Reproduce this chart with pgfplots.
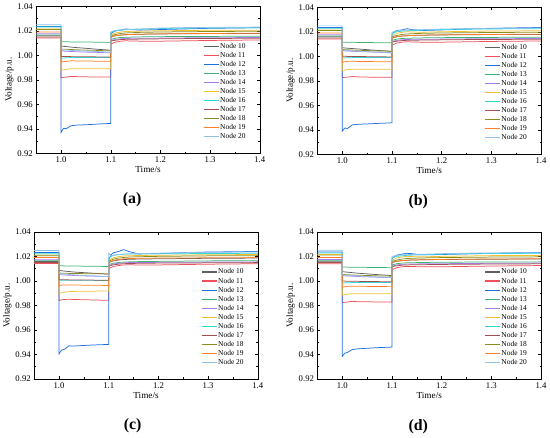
\documentclass[border=0pt]{standalone}
\usepackage{pgfplots}
\pgfplotsset{compat=1.18}
\usepackage{pgfplotstable}
\usepackage{fontspec}
\setmainfont{Liberation Serif}

\definecolor{c10}{HTML}{606060}
\definecolor{c11}{HTML}{F0505A}
\definecolor{c12}{HTML}{1F6FE0}
\definecolor{c13}{HTML}{3CB371}
\definecolor{c14}{HTML}{A87CF0}
\definecolor{c15}{HTML}{F0C030}
\definecolor{c16}{HTML}{30D8D8}
\definecolor{c17}{HTML}{A05050}
\definecolor{c18}{HTML}{8C8C1E}
\definecolor{c19}{HTML}{FF7F27}
\definecolor{c20}{HTML}{8EC0EA}

\pgfplotstableread{
t      n10    n11    n12    n13    n14    n15    n16    n17    n18    n19    n20
0.95   1.0160 1.0140 1.0235 1.0165 1.0175 1.0215 1.0230 1.0150 1.0210 1.0190 1.0250
0.9999 1.0160 1.0140 1.0235 1.0165 1.0175 1.0215 1.0230 1.0150 1.0210 1.0190 1.0250
1.0    1.0075 0.9815 0.9370 1.0110 1.0035 0.9880 0.9975 0.9990 1.0050 0.9945 1.0045
1.005  1.0073 0.9820 0.9405 1.0110 1.0034 0.9882 0.9978 0.9990 1.0050 0.9948 1.0044
1.01   1.0071 0.9822 0.9400 1.0110 1.0033 0.9885 0.9980 0.9990 1.0049 0.9950 1.0043
1.02   1.0067 0.9828 0.9425 1.0109 1.0031 0.9890 0.9981 0.9989 1.0047 0.9955 1.0040
1.03   1.0063 0.9826 0.9430 1.0109 1.0029 0.9890 0.9981 0.9989 1.0045 0.9954 1.0038
1.05   1.0057 0.9824 0.9433 1.0108 1.0026 0.9890 0.9981 0.9988 1.0042 0.9953 1.0034
1.07   1.0050 0.9823 0.9438 1.0107 1.0024 0.9890 0.9981 0.9987 1.0040 0.9952 1.0031
1.09   1.0044 0.9822 0.9442 1.0106 1.0021 0.9890 0.9981 0.9986 1.0037 0.9951 1.0027
1.0999 1.0041 0.9822 0.9444 1.0105 1.0020 0.9890 0.9981 0.9986 1.0036 0.9951 1.0025
1.1    1.0150 1.0090 1.0170 1.0130 1.0120 1.0165 1.0185 1.0115 1.0155 1.0145 1.0190
1.105  1.0155 1.0100 1.0190 1.0135 1.0125 1.0175 1.0195 1.0120 1.0165 1.0155 1.0198
1.11   1.0160 1.0108 1.0200 1.0140 1.0130 1.0182 1.0200 1.0123 1.0170 1.0160 1.0203
1.12   1.0165 1.0115 1.0205 1.0145 1.0135 1.0190 1.0205 1.0128 1.0178 1.0165 1.0207
1.13   1.0168 1.0118 1.0215 1.0147 1.0137 1.0194 1.0208 1.0130 1.0182 1.0168 1.0210
1.14   1.0170 1.0117 1.0210 1.0148 1.0138 1.0195 1.0210 1.0131 1.0184 1.0170 1.0212
1.16   1.0172 1.0115 1.0205 1.0150 1.0139 1.0197 1.0213 1.0132 1.0187 1.0172 1.0215
1.2    1.0174 1.0115 1.0210 1.0152 1.0140 1.0200 1.0218 1.0134 1.0190 1.0175 1.0222
1.25   1.0176 1.0118 1.0215 1.0153 1.0142 1.0202 1.0221 1.0136 1.0192 1.0177 1.0226
1.3    1.0177 1.0121 1.0220 1.0154 1.0143 1.0204 1.0223 1.0137 1.0194 1.0178 1.0228
1.4    1.0178 1.0125 1.0225 1.0155 1.0145 1.0205 1.0225 1.0139 1.0196 1.0180 1.0230
}\dataA

\pgfplotstableread{
t      n10    n11    n12    n13    n14    n15    n16    n17    n18    n19    n20
0.95   1.0160 1.0140 1.0235 1.0165 1.0175 1.0215 1.0228 1.0150 1.0210 1.0190 1.0248
0.9999 1.0160 1.0140 1.0235 1.0165 1.0175 1.0215 1.0228 1.0150 1.0210 1.0190 1.0248
1.0    1.0070 0.9825 0.9390 1.0115 1.0045 0.9885 0.9985 1.0000 1.0055 0.9950 1.0050
1.005  1.0068 0.9828 0.9415 1.0115 1.0044 0.9887 0.9987 1.0000 1.0054 0.9955 1.0049
1.01   1.0066 0.9830 0.9410 1.0114 1.0043 0.9890 0.9988 0.9999 1.0053 0.9958 1.0048
1.02   1.0063 0.9835 0.9440 1.0114 1.0041 0.9895 0.9989 0.9998 1.0051 0.9960 1.0045
1.03   1.0060 0.9832 0.9445 1.0113 1.0039 0.9895 0.9989 0.9998 1.0049 0.9958 1.0042
1.05   1.0054 0.9830 0.9448 1.0112 1.0036 0.9895 0.9989 0.9997 1.0047 0.9957 1.0038
1.07   1.0048 0.9829 0.9452 1.0111 1.0033 0.9895 0.9989 0.9996 1.0044 0.9956 1.0034
1.09   1.0043 0.9828 0.9455 1.0110 1.0030 0.9895 0.9989 0.9995 1.0042 0.9955 1.0030
1.0999 1.0040 0.9828 0.9457 1.0110 1.0028 0.9895 0.9989 0.9995 1.0041 0.9955 1.0028
1.1    1.0150 1.0090 1.0180 1.0130 1.0120 1.0165 1.0185 1.0115 1.0155 1.0145 1.0195
1.105  1.0155 1.0100 1.0200 1.0135 1.0125 1.0178 1.0195 1.0120 1.0165 1.0155 1.0203
1.11   1.0160 1.0108 1.0210 1.0140 1.0130 1.0188 1.0200 1.0123 1.0170 1.0160 1.0208
1.12   1.0165 1.0115 1.0215 1.0145 1.0135 1.0195 1.0205 1.0128 1.0178 1.0165 1.0212
1.13   1.0168 1.0118 1.0225 1.0147 1.0137 1.0200 1.0208 1.0130 1.0182 1.0168 1.0214
1.14   1.0170 1.0117 1.0218 1.0148 1.0138 1.0198 1.0210 1.0131 1.0184 1.0170 1.0215
1.16   1.0172 1.0115 1.0210 1.0150 1.0139 1.0196 1.0213 1.0132 1.0187 1.0172 1.0217
1.2    1.0174 1.0115 1.0215 1.0152 1.0140 1.0200 1.0218 1.0134 1.0190 1.0175 1.0222
1.25   1.0176 1.0118 1.0222 1.0153 1.0142 1.0203 1.0221 1.0136 1.0192 1.0177 1.0226
1.3    1.0177 1.0121 1.0228 1.0154 1.0143 1.0206 1.0223 1.0137 1.0194 1.0178 1.0228
1.4    1.0178 1.0125 1.0235 1.0155 1.0145 1.0208 1.0225 1.0139 1.0196 1.0180 1.0230
}\dataB

\pgfplotstableread{
t      n10    n11    n12    n13    n14    n15    n16    n17    n18    n19    n20
0.95   1.0158 1.0142 1.0231 1.0165 1.0172 1.0212 1.0222 1.0150 1.0205 1.0190 1.0247
0.9999 1.0158 1.0142 1.0231 1.0165 1.0172 1.0212 1.0222 1.0150 1.0205 1.0190 1.0247
1.0    1.0085 0.9840 0.9405 1.0123 1.0051 0.9898 1.0005 1.0010 1.0064 0.9962 1.0060
1.005  1.0083 0.9845 0.9435 1.0123 1.0050 0.9902 1.0005 1.0010 1.0063 0.9965 1.0058
1.01   1.0080 0.9848 0.9440 1.0122 1.0048 0.9906 1.0005 1.0009 1.0062 0.9966 1.0056
1.02   1.0076 0.9850 0.9470 1.0122 1.0046 0.9912 1.0005 1.0008 1.0061 0.9967 1.0052
1.03   1.0072 0.9848 0.9468 1.0121 1.0044 0.9914 1.0005 1.0008 1.0060 0.9966 1.0049
1.05   1.0067 0.9846 0.9473 1.0120 1.0041 0.9915 1.0004 1.0007 1.0059 0.9965 1.0044
1.07   1.0062 0.9844 0.9477 1.0119 1.0039 0.9916 1.0004 1.0006 1.0058 0.9964 1.0040
1.09   1.0057 0.9842 0.9480 1.0118 1.0036 0.9917 1.0003 1.0005 1.0057 0.9963 1.0036
1.0999 1.0055 0.9841 0.9481 1.0118 1.0035 0.9917 1.0003 1.0005 1.0056 0.9963 1.0035
1.1    1.0150 1.0100 1.0175 1.0135 1.0125 1.0170 1.0190 1.0120 1.0160 1.0150 1.0225
1.105  1.0158 1.0110 1.0215 1.0140 1.0132 1.0180 1.0200 1.0126 1.0170 1.0160 1.0205
1.11   1.0163 1.0118 1.0230 1.0145 1.0138 1.0190 1.0208 1.0131 1.0178 1.0168 1.0210
1.12   1.0170 1.0125 1.0240 1.0150 1.0143 1.0198 1.0214 1.0136 1.0186 1.0175 1.0215
1.13   1.0174 1.0130 1.0255 1.0153 1.0147 1.0203 1.0218 1.0140 1.0191 1.0180 1.0218
1.14   1.0176 1.0131 1.0240 1.0155 1.0149 1.0205 1.0219 1.0142 1.0194 1.0182 1.0220
1.16   1.0178 1.0130 1.0220 1.0157 1.0150 1.0207 1.0220 1.0143 1.0197 1.0184 1.0222
1.2    1.0180 1.0130 1.0222 1.0159 1.0151 1.0209 1.0221 1.0145 1.0200 1.0186 1.0226
1.25   1.0182 1.0133 1.0230 1.0161 1.0152 1.0211 1.0222 1.0146 1.0202 1.0187 1.0230
1.3    1.0184 1.0136 1.0235 1.0163 1.0153 1.0213 1.0223 1.0147 1.0204 1.0188 1.0233
1.4    1.0186 1.0140 1.0240 1.0165 1.0155 1.0215 1.0225 1.0149 1.0206 1.0190 1.0236
}\dataC

\pgfplotstableread{
t      n10    n11    n12    n13    n14    n15    n16    n17    n18    n19    n20
0.95   1.0160 1.0140 1.0235 1.0165 1.0175 1.0215 1.0228 1.0150 1.0210 1.0190 1.0250
0.9999 1.0160 1.0140 1.0235 1.0165 1.0175 1.0215 1.0228 1.0150 1.0210 1.0190 1.0250
1.0    1.0075 0.9822 0.9385 1.0113 1.0042 0.9885 0.9982 0.9998 1.0052 0.9948 1.0048
1.005  1.0073 0.9825 0.9410 1.0113 1.0041 0.9887 0.9984 0.9998 1.0051 0.9952 1.0047
1.01   1.0071 0.9828 0.9415 1.0112 1.0040 0.9890 0.9985 0.9997 1.0050 0.9955 1.0046
1.02   1.0067 0.9833 0.9440 1.0112 1.0038 0.9895 0.9986 0.9996 1.0048 0.9957 1.0043
1.03   1.0063 0.9830 0.9445 1.0111 1.0036 0.9895 0.9986 0.9996 1.0046 0.9956 1.0040
1.05   1.0057 0.9829 0.9450 1.0110 1.0033 0.9895 0.9986 0.9995 1.0044 0.9955 1.0036
1.07   1.0051 0.9828 0.9455 1.0109 1.0030 0.9895 0.9986 0.9994 1.0041 0.9954 1.0032
1.09   1.0046 0.9827 0.9458 1.0108 1.0027 0.9895 0.9986 0.9993 1.0039 0.9953 1.0028
1.0999 1.0043 0.9827 0.9460 1.0108 1.0026 0.9895 0.9986 0.9993 1.0038 0.9953 1.0026
1.1    1.0150 1.0090 1.0180 1.0130 1.0120 1.0165 1.0185 1.0115 1.0155 1.0145 1.0200
1.105  1.0155 1.0100 1.0200 1.0135 1.0125 1.0178 1.0195 1.0120 1.0165 1.0155 1.0203
1.11   1.0160 1.0108 1.0210 1.0140 1.0130 1.0188 1.0200 1.0123 1.0170 1.0160 1.0208
1.12   1.0165 1.0115 1.0218 1.0145 1.0135 1.0195 1.0205 1.0128 1.0178 1.0165 1.0212
1.13   1.0168 1.0118 1.0225 1.0147 1.0137 1.0200 1.0208 1.0130 1.0182 1.0168 1.0214
1.14   1.0170 1.0117 1.0222 1.0148 1.0138 1.0198 1.0210 1.0131 1.0184 1.0170 1.0215
1.16   1.0172 1.0115 1.0212 1.0150 1.0139 1.0196 1.0213 1.0132 1.0187 1.0172 1.0217
1.2    1.0174 1.0115 1.0215 1.0152 1.0140 1.0200 1.0218 1.0134 1.0190 1.0175 1.0222
1.25   1.0176 1.0118 1.0220 1.0153 1.0142 1.0203 1.0221 1.0136 1.0192 1.0177 1.0226
1.3    1.0177 1.0121 1.0225 1.0154 1.0143 1.0206 1.0223 1.0137 1.0194 1.0178 1.0228
1.4    1.0178 1.0125 1.0232 1.0155 1.0145 1.0208 1.0225 1.0139 1.0196 1.0180 1.0230
}\dataD

\pgfplotsset{
  myax/.style={
    scale only axis, width=225bp, height=148bp,
    anchor=south west,
    xmin=0.95, xmax=1.4, ymin=0.92, ymax=1.04,
    xtick={1.0,1.1,1.2,1.3,1.4},
    ytick={0.92,0.94,0.96,0.98,1.00,1.02,1.04},
    minor x tick num=1, minor y tick num=1,
    tick align=inside,
    major tick length=3bp, minor tick length=1.5bp,
    xticklabel style={/pgf/number format/.cd,fixed,fixed zerofill,precision=1},
    yticklabel style={/pgf/number format/.cd,fixed,fixed zerofill,precision=2},
    /pgf/number format/assume math mode=true,
    ticklabel style={font=\fontsize{8.8}{9}\selectfont},
    label style={font=\fontsize{9.3}{10}\selectfont},
    xlabel={Time/s}, ylabel={Voltage/p.u.},
    xlabel style={yshift=3bp},
    ylabel style={yshift=-3bp},
    axis line style={line width=0.5bp},
    every tick/.style={line width=0.4bp, black},
    legend style={at={(0.955,0.77)}, anchor=north east, draw=none, fill=none,
      font=\fontsize{7.5}{8}\selectfont, row sep=0.4bp,
      nodes={inner sep=1bp}},
    legend cell align=left,
    legend image code/.code={\draw[#1, line width=1.4bp] (0bp,0bp) -- (15bp,0bp);},
    every axis plot/.append style={line width=0.75bp},
  }
}
\newcommand\plotall[1]{%
  \addplot[c10] table[x=t,y=n10]{#1};
  \addplot[c11] table[x=t,y=n11]{#1};
  \addplot[c12] table[x=t,y=n12]{#1};
  \addplot[c13] table[x=t,y=n13]{#1};
  \addplot[c14] table[x=t,y=n14]{#1};
  \addplot[c15] table[x=t,y=n15]{#1};
  \addplot[c16] table[x=t,y=n16]{#1};
  \addplot[c17] table[x=t,y=n17]{#1};
  \addplot[c18] table[x=t,y=n18]{#1};
  \addplot[c19] table[x=t,y=n19]{#1};
  \addplot[c20] table[x=t,y=n20]{#1};
  \legend{Node 10,Node 11,Node 12,Node 13,Node 14,Node 15,Node 16,Node 17,Node 18,Node 19,Node 20}
}

\begin{document}
\begin{tikzpicture}[x=1bp,y=1bp]
\path (0,0) rectangle (550,439);
\begin{axis}[myax, at={(33bp,285bp)}]
\plotall{\dataA}
\end{axis}
\begin{axis}[myax, at={(316bp,284bp)}]
\plotall{\dataB}
\end{axis}
\begin{axis}[myax, at={(31bp,58bp)}]
\plotall{\dataC}
\end{axis}
\begin{axis}[myax, at={(316bp,58bp)}]
\plotall{\dataD}
\end{axis}
\node[font=\bfseries\fontsize{16}{18}\selectfont] at (129.5,238) {(a)};
\node[font=\bfseries\fontsize{16}{18}\selectfont] at (417.5,236) {(b)};
\node[font=\bfseries\fontsize{16}{18}\selectfont] at (130,11) {(c)};
\node[font=\bfseries\fontsize{16}{18}\selectfont] at (417.5,10) {(d)};
\end{tikzpicture}
\end{document}
